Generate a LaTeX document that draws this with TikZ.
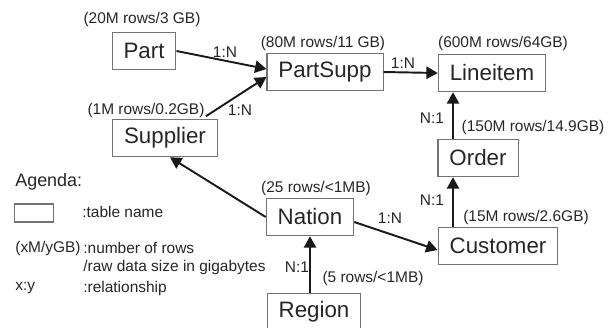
\documentclass[tikz,border=0pt]{standalone}
\usepackage{fontspec}
\setmainfont{Liberation Sans}
\usetikzlibrary{positioning,arrows.meta}

\begin{document}
\begin{tikzpicture}[
  tbl/.style={draw=black!55, line width=0.6pt, inner xsep=0.23cm,
    minimum height=0.75cm, text=black!85, font=\fontsize{12.7}{14}\selectfont},
  lbl/.style={inner sep=0pt, text=black!85, font=\fontsize{8.8}{10}\selectfont},
  arr/.style={-{Triangle[length=6.5pt,width=7pt]}, line width=1.1pt, black!90}
]
  \useasboundingbox (0,0) rectangle (12.16,6.54);
  % tables
  \node[tbl] (part) at (2.88,5.52) {Part};
  \node[tbl] (partsupp) at (6.5,5.1) {PartSupp};
  \node[tbl] (lineitem) at (9.84,5.08) {Lineitem};
  \node[tbl] (supplier) at (3.3,3.78) {Supplier};
  \node[tbl] (order) at (9.56,3.38) {Order};
  \node[tbl] (nation) at (6.2,2.2) {Nation};
  \node[tbl] (customer) at (9.96,1.62) {Customer};
  \node[tbl] (region) at (6.28,0.3) {Region};
  % sizes
  \node[lbl] (szpart) at (2.84,6.16) {(20M rows/3 GB)};
  \node[lbl] (szpartsupp) at (6.46,5.68) {(80M rows/11 GB)};
  \node[lbl] (szlineitem) at (10.06,5.68) {(600M rows/64GB)};
  \node[lbl] (szsupplier) at (2.92,4.34) {(1M rows/0.2GB)};
  \node[lbl] (szorder) at (10.66,4.0) {(150M rows/14.9GB)};
  \node[lbl] (sznation) at (6.32,2.78) {(25 rows/<1MB)};
  \node[lbl] (szcustomer) at (10.52,2.2) {(15M rows/2.6GB)};
  \node[lbl] (szregion) at (7.46,0.98) {(5 rows/<1MB)};
  % relationships
  \node[lbl] (rpart) at (4.5,5.5) {1:N};
  \node[lbl] (rpartsupp) at (8.06,5.28) {1:N};
  \node[lbl] (rsupplier) at (4.8,4.34) {1:N};
  \node[lbl] (rorder) at (8.64,4.18) {N:1};
  \node[lbl] (rcustomer) at (8.64,2.54) {N:1};
  \node[lbl] (rnation) at (7.8,2.18) {1:N};
  \node[lbl] (rregion) at (5.94,1.2) {N:1};
  % connectors
  \draw[arr] (part.east) -- ([yshift=0.06cm]partsupp.west);
  \draw[arr] ([shift={(-0.24,0.05)}]supplier.north east) -- ([yshift=-0.1cm]partsupp.west);
  \draw[arr] (partsupp.east) -- (lineitem.west);
  \draw[arr] ([xshift=-0.5cm]order.north) -- ([xshift=-0.5cm]order.north |- lineitem.south);
  \draw[arr] ([xshift=-0.5cm]order.south |- customer.north) -- ([xshift=-0.5cm]order.south);
  \draw[arr] (nation.west) -- ([xshift=0.1cm]supplier.south);
  \draw[arr] ([yshift=-0.1cm]nation.east) -- ([yshift=-0.08cm]customer.west);
  \draw[arr] (nation.south |- region.north) -- (nation.south);
  % legend
  \node[lbl, anchor=west, font=\fontsize{10.2}{12}\selectfont] (agenda) at (0.3,2.9) {Agenda:};
  \node[draw=black!55, line width=0.6pt, minimum width=0.78cm, minimum height=0.36cm] (keybox) at (0.68,2.28) {};
  \node[lbl, anchor=west] (keytable) at (1.64,2.3) {:table name};
  \node[lbl, anchor=west] (keysize) at (0.3,1.58) {(xM/yGB)};
  \node[lbl, anchor=west] (keyrows) at (1.66,1.58) {:number of rows};
  \node[lbl, anchor=west] (keyraw) at (1.66,1.2) {/raw data size in gigabytes};
  \node[lbl, anchor=west] (keyrel) at (0.3,0.78) {x:y};
  \node[lbl, anchor=west] (keyrelship) at (1.66,0.78) {:relationship};
\end{tikzpicture}
\end{document}
